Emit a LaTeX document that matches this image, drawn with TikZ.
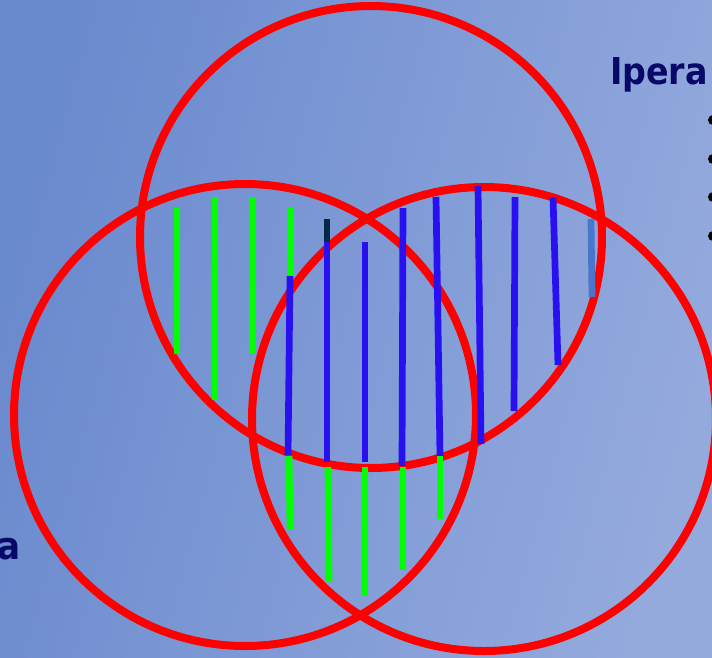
\documentclass[tikz,border=0pt]{standalone}
\usepackage{fontspec}
\newfontfamily\tfont{DejaVu Sans Condensed}
\definecolor{bgA}{RGB}{106,138,206}
\definecolor{bgB}{RGB}{148,170,221}
\definecolor{ringred}{RGB}{255,0,0}
\definecolor{lgreen}{RGB}{0,255,0}
\definecolor{lblue}{RGB}{40,16,240}
\definecolor{lnavy}{RGB}{0,42,70}
\definecolor{lsteel}{RGB}{74,117,204}
\definecolor{tnavy}{RGB}{8,8,104}
\tikzset{
  ring/.style={draw=ringred, line width=8pt},
  gline/.style={draw=lgreen, line width=6.7pt},
  bline/.style={draw=lblue, line width=6.7pt},
  nline/.style={draw=lnavy, line width=6.7pt},
  sline/.style={draw=lsteel, line width=6.7pt},
  title/.style={text=tnavy, font=\tfont\bfseries\fontsize{37}{40}\selectfont, inner sep=0pt},
  dot/.style={fill=black}
}
\begin{document}
\begin{tikzpicture}[x=1pt,y=-1pt]
\useasboundingbox (0,0) rectangle (712,657);
\shade[left color=bgA, right color=bgB, shading angle=75] (0,0) rectangle (712,657);
% circles
\draw[ring] (371,237) circle[radius=231pt];
\draw[ring] (245,415) circle[radius=231pt];
\draw[ring] (484,419) circle[radius=232pt];
% green upper-left lines
\draw[gline] (177,208) -- (177,354);
\draw[gline] (215,197) -- (215,400);
\draw[gline] (252,197) -- (252,354);
% line 4
\draw[gline] (290,208) -- (290,276);
\draw[bline] (290,276) -- (288,455);
\draw[gline] (289,456) -- (290,529);
% line 5
\draw[nline] (327,219) -- (327,242);
\draw[bline] (327,242) -- (327,462);
\draw[gline] (328,467) -- (329,581);
% line 6
\draw[bline] (365,242) -- (365,462);
\draw[gline] (365,467) -- (365,596);
% line 7
\draw[bline] (403,208) -- (402,466);
\draw[gline] (403,467) -- (403,570);
% line 8
\draw[bline] (436,197) -- (440,456);
\draw[gline] (440,456) -- (440,519);
% lines 9-12
\draw[bline] (478,186) -- (481,444);
\draw[bline] (515,197) -- (514,411);
\draw[bline] (553,197) -- (558,365);
\draw[sline] (591,219) -- (592,297);
% text
\node[title, anchor=base west] (ipera) at (610,84) {Ipera};
\node[title, anchor=base east, font=\tfont\bfseries\fontsize{38}{42}\selectfont] (aword) at (21,559) {a};
\fill[dot] (713,120) circle[radius=5pt];
\fill[dot] (713,159) circle[radius=5pt];
\fill[dot] (713,197) circle[radius=5pt];
\fill[dot] (713,236) circle[radius=5pt];
\end{tikzpicture}
\end{document}
